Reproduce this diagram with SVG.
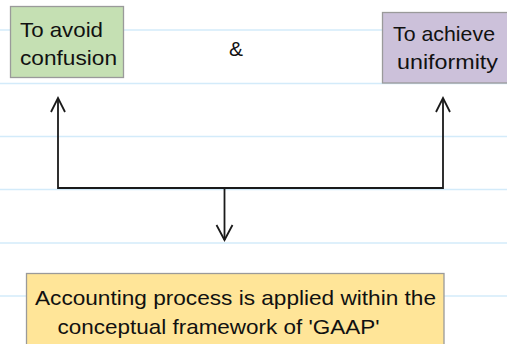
<svg xmlns="http://www.w3.org/2000/svg" width="507" height="344" viewBox="0 0 507 344">
<style>
.rule{stroke:#d3ebfa;stroke-width:1.5}
.box{stroke:#9a9a9a;stroke-width:1.3}
.t{font-family:"Liberation Sans",Arial,sans-serif;font-size:21px;fill:#111}
.conn{fill:none;stroke:#1a1a1a;stroke-width:1.8}
</style>
<rect width="507" height="344" fill="#ffffff"/>
<g id="rules">
<line class="rule" x1="0" y1="30" x2="507" y2="30"/>
<line class="rule" x1="0" y1="83.5" x2="507" y2="83.5"/>
<line class="rule" x1="0" y1="136.5" x2="507" y2="136.5"/>
<line class="rule" x1="0" y1="189.5" x2="507" y2="189.5"/>
<line class="rule" x1="0" y1="243" x2="507" y2="243"/>
<line class="rule" x1="0" y1="296" x2="507" y2="296"/>
</g>
<g id="connectors">
<polyline class="conn" points="58,99 58,188 443,188 443,99"/>
<polyline class="conn" points="51,112 58,98 65,112"/>
<polyline class="conn" points="436,112 443,98 450,112"/>
<line class="conn" x1="224.5" y1="188" x2="224.5" y2="240"/>
<polyline class="conn" points="216.5,225 224.5,240 232.5,225"/>
</g>
<g id="node-avoid">
<rect class="box" x="10.5" y="6.5" width="113" height="71" fill="#c5e0b3"/>
<text class="t" x="20" y="37" textLength="83" lengthAdjust="spacingAndGlyphs">To avoid</text>
<text class="t" x="20" y="65" textLength="97" lengthAdjust="spacingAndGlyphs">confusion</text>
</g>
<g id="amp">
<text class="t" x="229" y="56">&amp;</text>
</g>
<g id="node-uniformity">
<rect class="box" x="382.5" y="12.5" width="130" height="70.5" fill="#ccc1da"/>
<text class="t" x="393" y="41" textLength="102" lengthAdjust="spacingAndGlyphs">To achieve</text>
<text class="t" x="397" y="69" textLength="101" lengthAdjust="spacingAndGlyphs">uniformity</text>
</g>
<g id="node-gaap">
<rect class="box" x="26.5" y="273.5" width="417.5" height="80" fill="#ffe598"/>
<text class="t" x="35" y="305" textLength="401" lengthAdjust="spacingAndGlyphs">Accounting process is applied within the</text>
<text class="t" x="57.5" y="334" textLength="322" lengthAdjust="spacingAndGlyphs">conceptual framework of 'GAAP'</text>
</g>
</svg>
